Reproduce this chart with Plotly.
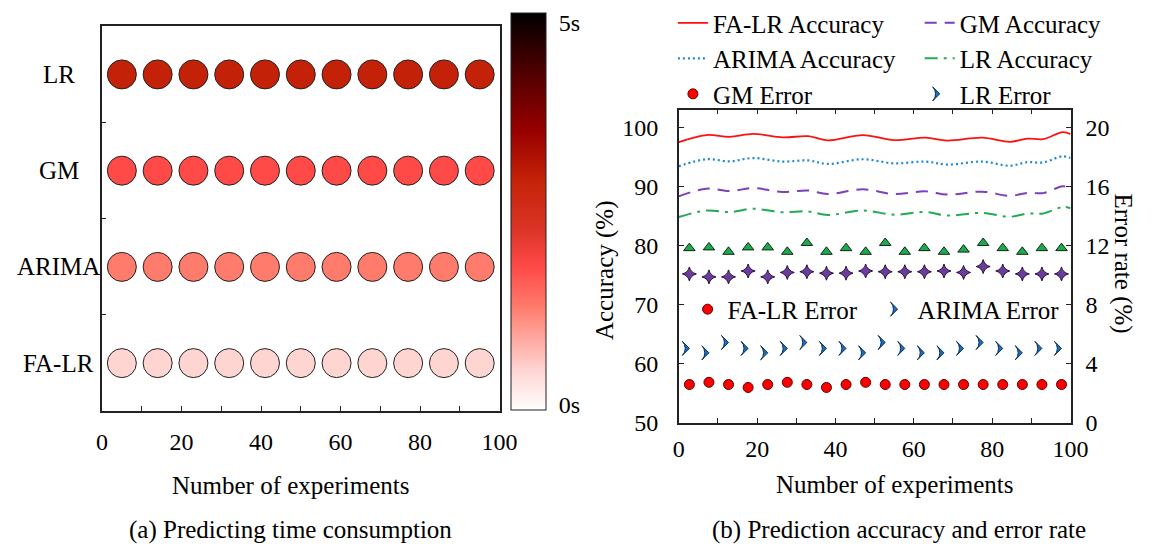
import plotly.graph_objects as go

W, H = 1160, 559
FONT = "Liberation Serif"

# ---------------- data: panel (a) ----------------
methods = ["FA-LR", "ARIMA", "GM", "LR"]
exp_a = [5, 14, 23, 32, 41, 50, 59, 68, 77, 86, 95]
time_falr = [0.5, 0.5, 0.5, 0.5, 0.5, 0.5, 0.5, 0.5, 0.5, 0.5, 0.5]
time_arima = [1.3, 1.3, 1.3, 1.3, 1.3, 1.3, 1.3, 1.3, 1.3, 1.3, 1.3]
time_gm = [1.8, 1.8, 1.8, 1.8, 1.8, 1.8, 1.8, 1.8, 1.8, 1.8, 1.8]
time_lr = [2.9, 2.9, 2.9, 2.9, 2.9, 2.9, 2.9, 2.9, 2.9, 2.9, 2.9]
cbar_ticktext = ["0s", "5s"]
xticks_a = [0, 20, 40, 60, 80, 100]

# ---------------- data: panel (b) ----------------
line_x = [0, 7, 13, 19, 26.5, 33, 38, 47, 55, 63, 68.5, 77.5, 84.5, 89, 93, 98, 100]
acc_falr = [97.6, 98.8, 98.5, 99.0, 98.4, 98.6, 97.9, 98.8, 97.95, 98.35, 97.85, 98.35, 97.65, 98.2, 98.1, 99.3, 98.95]
acc_arima = [93.5, 94.7, 94.35, 94.9, 94.3, 94.5, 93.9, 94.7, 94.0, 94.3, 93.8, 94.3, 93.6, 94.2, 94.15, 95.2, 94.9]
acc_gm = [88.4, 89.7, 89.3, 89.8, 89.15, 89.4, 88.8, 89.6, 88.8, 89.25, 88.7, 89.2, 88.5, 89.0, 88.95, 90.1, 89.9]
acc_lr = [84.9, 86.0, 85.75, 86.3, 85.7, 85.85, 85.25, 86.0, 85.3, 85.75, 85.15, 85.6, 84.95, 85.5, 85.5, 86.6, 86.4]

err_x = [2.7, 7.7, 12.7, 17.7, 22.7, 27.7, 32.7, 37.7, 42.7, 47.7,
         52.7, 57.7, 62.7, 67.7, 72.7, 77.7, 82.7, 87.7, 92.7, 97.7]
err_lr = [11.85, 11.9, 11.6, 11.9, 11.9, 11.6, 12.2, 11.6, 11.85, 11.6,
          12.2, 11.6, 11.85, 11.6, 11.75, 12.2, 11.85, 11.6, 11.85, 11.85]
err_gm = [10.1, 9.9, 9.9, 10.3, 9.9, 10.2, 10.25, 10.15, 10.15, 10.3,
          10.25, 10.25, 10.25, 10.3, 10.2, 10.6, 10.3, 10.1, 10.1, 10.1]
err_arima = [5.05, 4.75, 5.45, 5.05, 4.75, 5.05, 5.45, 5.05, 5.05, 4.75,
             5.45, 5.05, 4.75, 4.75, 5.05, 5.45, 5.05, 4.75, 5.05, 5.05]
err_falr = [2.6, 2.75, 2.6, 2.4, 2.6, 2.75, 2.6, 2.4, 2.6, 2.75,
            2.6, 2.6, 2.6, 2.6, 2.6, 2.6, 2.6, 2.6, 2.6, 2.6]
xticks_b = [0, 20, 40, 60, 80, 100]
acc_ticks = [50, 60, 70, 80, 90, 100]
err_ticks = [0, 4, 8, 12, 16, 20]


def px(x):
    return x / W


def py(y):
    return 1 - y / H


fig = go.Figure()

# ---- panel (a) ----
for name, vals in zip(methods, [time_falr, time_arima, time_gm, time_lr]):
    fig.add_trace(go.Scatter(
        x=exp_a, y=[name] * len(exp_a), mode="markers", showlegend=False,
        marker=dict(size=29, color=vals, coloraxis="coloraxis",
                    line=dict(color="#222222", width=1)),
        xaxis="x", yaxis="y"))

# ---- panel (b): accuracy lines ----
def acc_line(name, y, color, dash, width, legend):
    return go.Scatter(x=line_x, y=y, mode="lines", name=name, legend=legend,
                      line=dict(color=color, dash=dash, width=width, shape="spline", smoothing=1.0),
                      xaxis="x2", yaxis="y2")

fig.add_trace(acc_line("FA-LR Accuracy", acc_falr, "#FF1010", "solid", 1.8, "legend"))
fig.add_trace(acc_line("ARIMA Accuracy", acc_arima, "#1E88D8", "2px,3px", 2.2, "legend"))
fig.add_trace(acc_line("GM Accuracy", acc_gm, "#7B3FBF", "12px,8px", 2, "legend2"))
fig.add_trace(acc_line("LR Accuracy", acc_lr, "#22AA55", "13px,6px,3px,6px", 2, "legend2"))

# ---- panel (b): error markers ----
RED = dict(symbol="circle", size=10, color="#FF0000", line=dict(color="#5a0000", width=1))
CHEV = dict(symbol="arrow-wide", angle=90, size=10, color="#1A6FC4", line=dict(color="#0a2e55", width=1))

fig.add_trace(go.Scatter(x=err_x, y=err_lr, mode="markers", name="LR Error", legendgroup="lr",
                         showlegend=False,
                         marker=dict(symbol="triangle-up", size=10, color="#1DAA4E",
                                     line=dict(color="#0b2a12", width=1)),
                         xaxis="x2", yaxis="y3"))
fig.add_trace(go.Scatter(x=err_x, y=err_gm, mode="markers", name="GM Error", legendgroup="gm",
                         showlegend=False,
                         marker=dict(symbol="star-diamond", size=10, color="#6A3D9A",
                                     line=dict(color="#2a1040", width=1)),
                         xaxis="x2", yaxis="y3"))
fig.add_trace(go.Scatter(x=err_x, y=err_arima, mode="markers", name="ARIMA Error",
                         marker=CHEV, legend="legend3", xaxis="x2", yaxis="y3"))
fig.add_trace(go.Scatter(x=err_x, y=err_falr, mode="markers", name="FA-LR Error",
                         marker=RED, legend="legend3", xaxis="x2", yaxis="y3"))
# legend entries as drawn in the reference key
fig.add_trace(go.Scatter(x=[None], y=[None], mode="markers", name="GM Error", legendgroup="gm",
                         marker=RED, legend="legend", xaxis="x2", yaxis="y3"))
fig.add_trace(go.Scatter(x=[None], y=[None], mode="markers", name="LR Error", legendgroup="lr",
                         marker=CHEV, legend="legend2", xaxis="x2", yaxis="y3"))

AX = dict(showgrid=False, zeroline=False, showline=True, linecolor="#222222", linewidth=1.5,
          tickfont=dict(family=FONT, size=24, color="black"), tickcolor="#222222")
LFONT = dict(family=FONT, size=25, color="black")

fig.update_layout(
    width=W, height=H, margin=dict(l=0, r=0, t=0, b=0),
    paper_bgcolor="white", plot_bgcolor="white",
    font=dict(family=FONT, size=24, color="black"),
    coloraxis=dict(
        cmin=0, cmax=5,
        colorscale=[[0.0, "#FFFFFF"], [0.1, "#FFD5D2"], [0.26, "#FF7B6C"], [0.36, "#FF4A48"],
                    [0.45, "#DD3528"], [0.58, "#C42208"], [0.7, "#990000"], [0.85, "#500000"],
                    [1.0, "#000000"]],
        colorbar=dict(thickness=35, thicknessmode="pixels", len=397, lenmode="pixels",
                      x=px(516), xanchor="left", y=py(419), yanchor="bottom",
                      xpad=0, ypad=0, outlinewidth=1, outlinecolor="#222222",
                      tickvals=[0.07, 4.88], ticktext=cbar_ticktext,
                      ticks="outside", ticklen=8, tickcolor="rgba(0,0,0,0)",
                      tickfont=dict(family=FONT, size=24, color="black"))),
    xaxis=dict(AX, domain=[px(98), px(504)], range=[0, 100], tickvals=xticks_a,
               ticks="inside", ticklen=5, mirror=True, ticklabelstandoff=8,
               minor=dict(dtick=10, tick0=0, ticks="inside", ticklen=5, tickcolor="#222222"),
               anchor="y"),
    yaxis=dict(AX, domain=[py(420), py(23)], type="category", categoryorder="array",
               categoryarray=methods, range=[-0.5, 3.5], showticklabels=False,
               ticks="inside", tickson="boundaries", ticklen=4, mirror=True, anchor="x"),
    xaxis2=dict(AX, domain=[px(687), px(1087)], range=[0, 100], tickvals=xticks_b,
                ticks="inside", ticklen=5, mirror="ticks", ticklabelstandoff=4,
                minor=dict(dtick=10, tick0=0, ticks="inside", ticklen=5, tickcolor="#222222"),
                anchor="y2"),
    yaxis2=dict(AX, domain=[py(432), py(109)], range=[50, 103.1], tickvals=acc_ticks,
                ticks="inside", ticklen=5, mirror="ticks", ticklabelstandoff=14, anchor="x2"),
    yaxis3=dict(AX, domain=[py(432), py(109)], range=[0, 21.24], tickvals=err_ticks,
                side="right", overlaying="y2", anchor="x2", ticks="", showline=False,
                ticklabelstandoff=14),
    legend=dict(x=px(681), xanchor="left", y=py(-4), yanchor="top", bgcolor="rgba(0,0,0,0)",
                font=LFONT, tracegroupgap=0),
    legend2=dict(x=px(933), xanchor="left", y=py(-4), yanchor="top", bgcolor="rgba(0,0,0,0)",
                 font=LFONT, tracegroupgap=0),
    legend3=dict(x=px(696), xanchor="left", y=py(315), yanchor="middle", orientation="h",
                 bgcolor="rgba(0,0,0,0)", font=LFONT, entrywidth=145, entrywidthmode="pixels",
                 traceorder="reversed"),
)

ann = []
for name in methods:
    ann.append(dict(text=name, x=px(54), xref="paper", y=name, yref="y",
                    xanchor="center", yanchor="middle", showarrow=False, font=LFONT))
for text, x, y, ang in [("Number of experiments", 291, 497, 0),
                        ("(a) Predicting time consumption", 290, 543, 0),
                        ("Number of experiments", 907, 496, 0),
                        ("(b) Prediction accuracy and error rate", 912, 542, 0),
                        ("Accuracy (%)", 611, 274, -90),
                        ("Error rate (%)", 1141, 268, 90)]:
    ann.append(dict(text=text, x=px(x), y=py(y), xref="paper", yref="paper",
                    xanchor="center", yanchor="middle", showarrow=False, textangle=ang,
                    font=LFONT))
fig.update_layout(annotations=ann)

fig.write_html("out.html")
